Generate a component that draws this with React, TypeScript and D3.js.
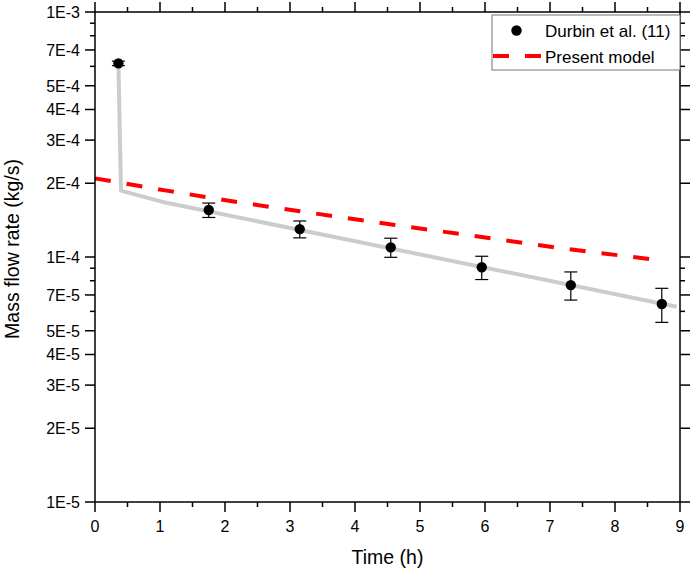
import React from "react";
import * as d3 from "d3";

// Experimental data (Durbin et al.)
const expTime = [0.36, 1.75, 3.15, 4.55, 5.95, 7.32, 8.72];
const expFlow = [6.17e-4, 1.555e-4, 1.3e-4, 1.095e-4, 9.08e-5, 7.68e-5, 6.43e-5];
const expErr = [0.13e-4, 1.05e-5, 1.03e-5, 0.98e-5, 0.99e-5, 1.01e-5, 1.02e-5];

// Grey reference curve
const greyTime = [0.36, 0.4, 1.08, 8.95];
const greyFlow = [6.17e-4, 1.866e-4, 1.668e-4, 6.27e-5];

// Present model (red dashed)
const modelTime = [0, 1.1, 2.11, 3.15, 4.615, 6.1, 7.1, 8.73];
const modelFlow = [2.094e-4, 1.866e-4, 1.688e-4, 1.537e-4, 1.351e-4, 1.192e-4, 1.092e-4, 9.66e-5];

const xTicks = [0, 1, 2, 3, 4, 5, 6, 7, 8, 9];
const xMinor = [0.5, 1.5, 2.5, 3.5, 4.5, 5.5, 6.5, 7.5, 8.5];
const yLabeled = [1e-5, 2e-5, 3e-5, 4e-5, 5e-5, 7e-5, 1e-4, 2e-4, 3e-4, 4e-4, 5e-4, 7e-4, 1e-3];
const yLabels = ["1E-5", "2E-5", "3E-5", "4E-5", "5E-5", "7E-5", "1E-4", "2E-4", "3E-4", "4E-4", "5E-4", "7E-4", "1E-3"];
const yMinor = [6e-5, 8e-5, 9e-5, 6e-4, 8e-4, 9e-4];

const W = 692;
const H = 571;
const L = 95, R = 680, T = 12, B = 502;
const font = "Arial, 'Liberation Sans', sans-serif";

export default function App() {
  const x = d3.scaleLinear().domain([0, 9]).range([L, R]);
  const y = d3.scaleLog().domain([1e-5, 1e-3]).range([B, T]);

  const line = d3
    .line<[number, number]>()
    .x((d) => x(d[0]))
    .y((d) => y(d[1]));

  const greyPath = line(greyTime.map((t, i) => [t, greyFlow[i]]) as [number, number][]) || "";
  const modelPath = line(modelTime.map((t, i) => [t, modelFlow[i]]) as [number, number][]) || "";

  const maj = 10;
  const min = 5;

  return (
    <svg
      width={W}
      height={H}
      style={{ position: "absolute", left: 0, top: 0, background: "#fff" }}
      fontFamily={font}
    >
      <rect x={0} y={0} width={W} height={H} fill="#fff" />

      {/* grey curve */}
      <path d={greyPath} fill="none" stroke="#cccccc" strokeWidth={4} strokeLinejoin="round" />

      {/* model */}
      <path d={modelPath} fill="none" stroke="#ff0000" strokeWidth={4} strokeDasharray="16 16" />

      {/* experimental points */}
      {expTime.map((t, i) => {
        const cx = x(t);
        const yt = y(expFlow[i] + expErr[i]);
        const yb = y(expFlow[i] - expErr[i]);
        return (
          <g key={i}>
            <line x1={cx} x2={cx} y1={yt} y2={yb} stroke="#000" strokeWidth={1.2} />
            <line x1={cx - 6.5} x2={cx + 6.5} y1={yt} y2={yt} stroke="#000" strokeWidth={1.2} />
            <line x1={cx - 6.5} x2={cx + 6.5} y1={yb} y2={yb} stroke="#000" strokeWidth={1.2} />
            <circle cx={cx} cy={y(expFlow[i])} r={5.2} fill="#000" />
          </g>
        );
      })}

      {/* frame */}
      <rect x={L} y={T} width={R - L} height={B - T} fill="none" stroke="#000" strokeWidth={1.5} />

      {/* x ticks */}
      {xTicks.map((t) => (
        <g key={"xt" + t}>
          <line x1={x(t)} x2={x(t)} y1={B} y2={B + maj} stroke="#000" strokeWidth={1.5} />
          <line x1={x(t)} x2={x(t)} y1={T} y2={T - maj} stroke="#000" strokeWidth={1.5} />
          <text x={x(t)} y={532} textAnchor="middle" fontSize={16} fill="#000">
            {t}
          </text>
        </g>
      ))}
      {xMinor.map((t) => (
        <g key={"xm" + t}>
          <line x1={x(t)} x2={x(t)} y1={B} y2={B + min} stroke="#000" strokeWidth={1.5} />
          <line x1={x(t)} x2={x(t)} y1={T} y2={T - min} stroke="#000" strokeWidth={1.5} />
        </g>
      ))}

      {/* y ticks */}
      {yLabeled.map((v, i) => (
        <g key={"yt" + i}>
          <line x1={L - maj} x2={L} y1={y(v)} y2={y(v)} stroke="#000" strokeWidth={1.5} />
          <line x1={R} x2={R + maj} y1={y(v)} y2={y(v)} stroke="#000" strokeWidth={1.5} />
          <text x={80} y={y(v)} dy="0.36em" textAnchor="end" fontSize={16} fill="#000">
            {yLabels[i]}
          </text>
        </g>
      ))}
      {yMinor.map((v, i) => (
        <g key={"ym" + i}>
          <line x1={L - min} x2={L} y1={y(v)} y2={y(v)} stroke="#000" strokeWidth={1.5} />
          <line x1={R} x2={R + min} y1={y(v)} y2={y(v)} stroke="#000" strokeWidth={1.5} />
        </g>
      ))}

      {/* axis titles */}
      <text x={(L + R) / 2} y={564} textAnchor="middle" fontSize={19.5} fill="#000">
        Time (h)
      </text>
      <text
        transform={`translate(19, ${(T + B) / 2 - 8}) rotate(-90)`}
        textAnchor="middle"
        fontSize={19.5}
        fill="#000"
      >
        Mass flow rate (kg/s)
      </text>

      {/* legend */}
      <rect x={492} y={15} width={188} height={55} fill="#fff" stroke="#777" strokeWidth={1} />
      <circle cx={516.5} cy={30.5} r={5.2} fill="#000" />
      <text x={545} y={37} fontSize={17} fill="#000">
        Durbin et al. (11)
      </text>
      <line x1={493} x2={541} y1={56} y2={56} stroke="#ff0000" strokeWidth={4} strokeDasharray="16 16" />
      <text x={545} y={63} fontSize={17} fill="#000">
        Present model
      </text>
    </svg>
  );
}
